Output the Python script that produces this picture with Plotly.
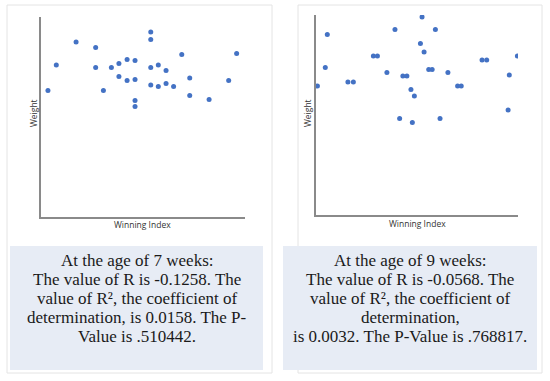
import plotly.graph_objects as go

W, H = 550, 381

# ---- Data (arbitrary units 0-100) ----
x7 = [3.4, 7.5, 17.2, 26.8, 26.8, 30.6, 34.5, 38.2, 38.2, 42.2, 42.2, 46.1, 46.1, 46.1, 46.1,
      53.8, 53.8, 53.8, 53.8, 57.5, 57.5, 61.3, 61.3, 65.0, 69.0, 72.9, 72.9, 82.4, 92.0, 95.9]
y7 = [63.2, 76.0, 87.5, 84.7, 74.7, 63.2, 74.7, 76.7, 70.3, 78.8, 68.2, 78.2, 68.8, 58.2, 55.2,
      92.5, 88.8, 74.7, 66.0, 76.0, 65.2, 73.2, 66.7, 65.2, 81.2, 69.5, 60.8, 58.8, 68.2, 81.8]

x9 = [0.7, 4.6, 5.6, 15.8, 18.5, 28.4, 30.4, 35.1, 39.1, 41.4, 43.0, 45.0, 47.0, 47.7, 48.7,
      51.7, 52.5, 53.5, 55.8, 57.5, 59.1, 61.4, 65.3, 70.1, 71.9, 82.2, 84.5, 95.1, 95.7, 99.7]
y9 = [64.5, 73.8, 90.2, 66.5, 66.5, 79.5, 79.5, 71.3, 92.8, 48.3, 69.5, 69.5, 62.7, 46.3, 59.5,
      85.8, 99.0, 81.5, 72.7, 72.7, 92.8, 48.3, 71.3, 64.5, 64.5, 77.5, 77.5, 52.5, 70.0, 79.5]

lines7 = ["At the age of 7 weeks:",
          "The value of R is -0.1258. The",
          "value of R², the coefficient of",
          "determination, is 0.0158. The P-",
          "Value is .510442."]
lines9 = ["At the age of 9 weeks:",
          "The value of R is -0.0568. The",
          "value of R², the coefficient of",
          "determination,",
          "is 0.0032. The P-Value is .768817."]

def px(v):
    return v / W

def py(v):
    return 1 - v / H

fig = go.Figure()
fig.add_trace(go.Scatter(x=x7, y=y7, mode="markers", xaxis="x", yaxis="y",
                         marker=dict(color="#4472C4", size=5), showlegend=False))
fig.add_trace(go.Scatter(x=x9, y=y9, mode="markers", xaxis="x2", yaxis="y2",
                         marker=dict(color="#4472C4", size=5), showlegend=False))

axstyle = dict(showgrid=False, zeroline=False, showticklabels=False, ticks="",
               showline=True, linecolor="#8a8a8a", linewidth=2, range=[0, 100], fixedrange=True)

fig.update_layout(
    width=W, height=H,
    margin=dict(l=0, r=0, t=0, b=0),
    paper_bgcolor="white", plot_bgcolor="rgba(0,0,0,0)",
    xaxis=dict(domain=[px(41), px(245)], anchor="y", **axstyle),
    yaxis=dict(domain=[py(217), py(17)], anchor="x", **axstyle),
    xaxis2=dict(domain=[px(316), px(518)], anchor="y2", **axstyle),
    yaxis2=dict(domain=[py(215), py(15)], anchor="x2", **axstyle),
)

shapes = [
    dict(type="rect", xref="paper", yref="paper", x0=px(7), x1=px(272), y0=py(373), y1=py(5),
         line=dict(color="#e4e4e4", width=1), fillcolor="rgba(0,0,0,0)", layer="below"),
    dict(type="rect", xref="paper", yref="paper", x0=px(298), x1=px(542), y0=py(373), y1=py(5),
         line=dict(color="#e4e4e4", width=1), fillcolor="rgba(0,0,0,0)", layer="below"),
    dict(type="rect", xref="paper", yref="paper", x0=px(10), x1=px(263), y0=py(370), y1=py(246),
         line=dict(width=0), fillcolor="#E7ECF5", layer="below"),
    dict(type="rect", xref="paper", yref="paper", x0=px(283), x1=px(537), y0=py(370), y1=py(246),
         line=dict(width=0), fillcolor="#E7ECF5", layer="below"),
]
fig.update_layout(shapes=shapes)

ann = []
for cx, cy in [(142, 225), (417, 223)]:
    ann.append(dict(text="Winning Index", x=px(cx), y=py(cy), xref="paper", yref="paper",
                    showarrow=False, font=dict(family="Open Sans", size=8.5, color="#333333"),
                    xanchor="center", yanchor="middle"))
for cx, cy in [(33, 113), (307, 113)]:
    ann.append(dict(text="Weight", x=px(cx), y=py(cy), xref="paper", yref="paper",
                    showarrow=False, textangle=-90,
                    font=dict(family="Open Sans", size=8.5, color="#333333"),
                    xanchor="center", yanchor="middle"))
line_y = [260, 279, 298, 317, 336]
for cx, lines in [(137, lines7), (410, lines9)]:
    for ly, t in zip(line_y, lines):
        ann.append(dict(text=t, x=px(cx), y=py(ly), xref="paper", yref="paper",
                        showarrow=False, align="center",
                        font=dict(family="Liberation Serif", size=17, color="#1a1a1a"),
                        xanchor="center", yanchor="middle"))
fig.update_layout(annotations=ann)

fig.write_html("out.html", config={"displayModeBar": False},
               post_script="document.body.style.margin='0';")
